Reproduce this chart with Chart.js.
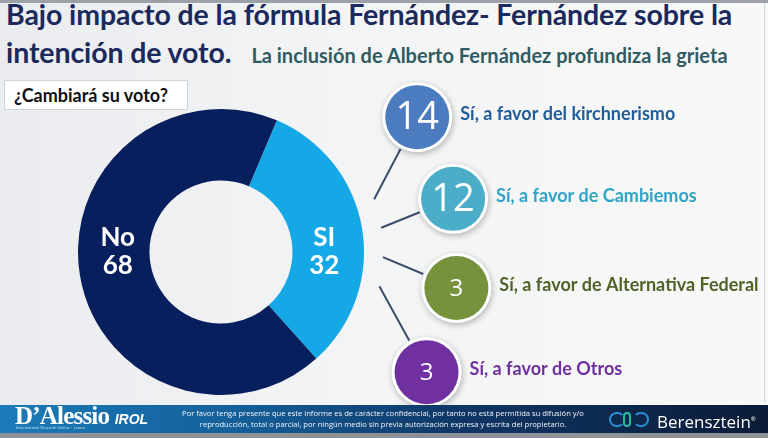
<!DOCTYPE html>
<html lang="es">
<head>
<meta charset="UTF-8">
<title>Bajo impacto de la fórmula Fernández- Fernández</title>
<script src="https://cdn.jsdelivr.net/npm/chart.js"></script>
<style>
  html, body { margin: 0; padding: 0; }
  body {
    width: 768px; height: 438px; position: relative; overflow: hidden;
    background: linear-gradient(to right, #eaecef 0%, #f3f4f5 45%, #f8f8f8 100%);
    font-family: Lato, "Open Sans", sans-serif;
  }
  #topbar { position: absolute; left: 0; top: 0; width: 768px; height: 3px; background: #9ca1a7; }
  #rightline { position: absolute; right: 3px; top: 3px; width: 1px; height: 400px; background: #d4d6d9; }
  .title { position: absolute; left: 6px; color: #1b2a5c; font-weight: 700; font-size: 28.5px; white-space: nowrap; letter-spacing: -0.1px; }
  #t1 { top: -3px; }
  #t2 { top: 35px; }
  #sub { font-size: 20px; color: #2f5b63; margin-left: 20px; letter-spacing: 0; }
  #box {
    position: absolute; left: 4px; top: 80px; width: 184px; height: 30px;
    background: #fff; border: 1px solid #c9d6de; box-sizing: border-box;
    font-weight: 700; font-size: 18px; color: #111; line-height: 28px; padding-left: 9px;
  }
  #chart { position: absolute; left: 0; top: 0; z-index: 2; }
  #footer {
    position: absolute; left: 0; top: 405px; width: 768px; height: 28px;
    background: linear-gradient(to right, #1b7bb8 0%, #14609b 30%, #0f3665 60%, #0b1b37 100%);
    color: #fff; z-index: 3;
  }
  #footgray { position: absolute; left: 0; top: 433px; width: 768px; height: 5px; background: #8e9297; }
  #dal { position: absolute; left: 15px; top: -1px; font-family: "Liberation Serif", serif; font-size: 25px; line-height: 24px; letter-spacing: -0.8px; font-weight: 700; }
  #dal b { font-family: "Liberation Sans", sans-serif; font-style: italic; font-size: 14px; letter-spacing: 0; }
  #dalsub { position: absolute; left: 16px; top: 21px; font-size: 3.5px; color: #cfe3f0; letter-spacing: 0.3px; white-space: nowrap; }
  #disc { position: absolute; left: 178px; top: 3px; width: 410px; text-align: center; font-size: 7.6px; line-height: 11px; color: #f2f4f8; white-space: nowrap; font-family: "Open Sans", sans-serif; }
  #ber { position: absolute; left: 657px; top: 2px; font-size: 17px; line-height: 24px; font-family: "Open Sans", sans-serif; }
  #ber sup { font-size: 6px; }
  #icon { position: absolute; left: 609px; top: 7px; width: 42px; height: 15px; }
  #icon span { position: absolute; top: 0; height: 11px; border: 2.5px solid; border-radius: 8px; }
</style>
</head>
<body>
<div id="topbar"></div>
<div id="rightline"></div>
<div class="title" id="t1">Bajo impacto de la fórmula Fernández- Fernández sobre la</div>
<div class="title" id="t2">intención de voto.<span id="sub">La inclusión de Alberto Fernández profundiza la grieta</span></div>
<div id="box">¿Cambiará su voto?</div>

<canvas id="chart" width="768" height="438"></canvas>

<div id="footer">
  <div id="dal">D’Alessio <b>IROL</b></div>
  <div id="dalsub">International Research Online · Lumen</div>
  <div id="disc">Por favor tenga presente que este informe es de carácter confidencial, por tanto no está permitida su difusión y/o<br>reproducción, total o parcial, por ningún medio sin previa autorización expresa y escrita del propietario.</div>
  <div id="icon">
    <span style="left:0; width:12px; border-color:#2a8fd6; border-right-color:transparent;"></span>
    <span style="left:14px; width:4px; border-color:#2fb6a0;"></span>
    <span style="left:24px; width:12px; border-color:#2a8fd6; border-left-color:transparent;"></span>
  </div>
  <div id="ber">Berensztein<sup>®</sup></div>
</div>
<div id="footgray"></div>

<script>
// respuesta principal
const categories = ['SI', 'No'];
const values = [32, 68];
const sliceColors = ['#14a9e6', '#081f5e'];

// desglose del "SI"
const breakdownLabels = [
  'Sí, a favor del kirchnerismo',
  'Sí, a favor de Cambiemos',
  'Sí, a favor de Alternativa Federal',
  'Sí, a favor de Otros'
];
const breakdownValues = [14, 12, 3, 3];
const breakdownColors = ['#4b7cc0', '#4badc8', '#76923c', '#7030a0'];
const breakdownTextColors = ['#215d98', '#2fa4c8', '#4f6328', '#7030a0'];

const deg = Math.PI / 180;

// dibuja las etiquetas del anillo y las burbujas del desglose
const labelsPlugin = {
  id: 'labelsPlugin',
  afterDraw(chart) {
    const ctx = chart.ctx;
    const arcs = chart.getDatasetMeta(0).data;
    const cx = arcs[0].x, cy = arcs[0].y;
    const R = arcs[0].outerRadius, r = arcs[0].innerRadius;

    ctx.save();
    ctx.fillStyle = '#fff';
    ctx.font = 'bold 26px Lato, sans-serif';
    ctx.textAlign = 'center';
    ctx.textBaseline = 'middle';
    arcs.forEach((arc, i) => {
      const mid = (arc.startAngle + arc.endAngle) / 2;
      const side = Math.cos(mid) >= 0 ? 1 : -1;
      const x = cx + side * ((R + r) / 2 - 4);
      ctx.fillText(categories[i], x, cy - 14);
      ctx.fillText(String(values[i]), x, cy + 14);
    });

    const dist = R * 1.665;
    const rad = 35;
    breakdownValues.forEach((v, i) => {
      const a = (-34.5 + 21.6 * i) * deg;
      const bx = cx + dist * Math.cos(a);
      const by = cy + dist * Math.sin(a);

      // linea desde el anillo
      const la = (-19 + 10.4 * i) * deg;
      const sx = cx + (R + 19) * Math.cos(la);
      const sy = cy + (R + 19) * Math.sin(la);
      const dx = bx - sx, dy = by - sy, len = Math.hypot(dx, dy);
      ctx.strokeStyle = '#3c4d6c';
      ctx.lineWidth = 2;
      ctx.beginPath();
      ctx.moveTo(sx, sy);
      ctx.lineTo(bx - dx / len * (rad + 1), by - dy / len * (rad + 1));
      ctx.stroke();

      // burbuja
      ctx.save();
      ctx.shadowColor = 'rgba(0,0,0,0.28)';
      ctx.shadowBlur = 6;
      ctx.shadowOffsetX = 1;
      ctx.shadowOffsetY = 2;
      ctx.fillStyle = '#fff';
      ctx.beginPath();
      ctx.arc(bx, by, rad, 0, Math.PI * 2);
      ctx.fill();
      ctx.restore();
      ctx.fillStyle = breakdownColors[i];
      ctx.beginPath();
      ctx.arc(bx, by, rad - 3, 0, Math.PI * 2);
      ctx.fill();

      ctx.fillStyle = '#fff';
      ctx.textAlign = 'center';
      ctx.font = (v >= 10 ? '38px' : '24px') + ' "Open Sans", sans-serif';
      ctx.fillText(String(v), bx, by + 1);

      ctx.textAlign = 'left';
      ctx.fillStyle = breakdownTextColors[i];
      ctx.font = 'bold 18px Lato, sans-serif';
      ctx.fillText(breakdownLabels[i], bx + rad + 8, by - 3);
    });
    ctx.restore();
  }
};

new Chart(document.getElementById('chart'), {
  type: 'doughnut',
  data: {
    labels: categories,
    datasets: [{
      data: values,
      backgroundColor: sliceColors,
      borderWidth: 0
    }]
  },
  options: {
    responsive: false,
    animation: false,
    devicePixelRatio: 1,
    rotation: 23,
    cutout: '50%',
    layout: { padding: { left: 78, right: 404, top: 109, bottom: 43 } },
    plugins: { legend: { display: false }, tooltip: { enabled: false } }
  },
  plugins: [labelsPlugin]
});
</script>
</body>
</html>
